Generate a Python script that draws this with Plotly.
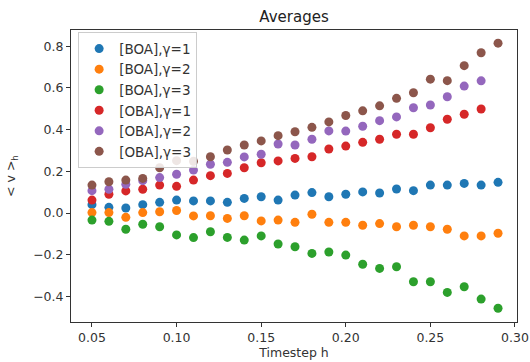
import plotly.graph_objects as go

h_full = [0.05, 0.06, 0.07, 0.08, 0.09, 0.10, 0.11, 0.12, 0.13, 0.14, 0.15, 0.16, 0.17,
          0.18, 0.19, 0.20, 0.21, 0.22, 0.23, 0.24, 0.25, 0.26, 0.27, 0.28, 0.29]
h_short = h_full[:-1]

boa_g1 = [0.040, 0.027, 0.024, 0.040, 0.051, 0.062, 0.058, 0.058, 0.051, 0.070, 0.078, 0.062, 0.086,
          0.098, 0.078, 0.090, 0.101, 0.096, 0.115, 0.107, 0.134, 0.134, 0.142, 0.134, 0.147]
boa_g2 = [0.002, 0.002, -0.021, 0.002, 0.006, 0.012, -0.014, -0.013, -0.026, -0.013, -0.038, -0.034, -0.045,
          -0.006, -0.045, -0.045, -0.059, -0.051, -0.066, -0.059, -0.066, -0.078, -0.110, -0.110, -0.097]
boa_g3 = [-0.034, -0.040, -0.078, -0.054, -0.066, -0.105, -0.118, -0.090, -0.117, -0.130, -0.110, -0.149, -0.162,
          -0.194, -0.187, -0.202, -0.246, -0.266, -0.258, -0.330, -0.330, -0.381, -0.354, -0.413, -0.457]
oba_g1 = [0.062, 0.090, 0.106, 0.114, 0.134, 0.128, 0.158, 0.179, 0.190, 0.217, 0.241, 0.250, 0.262,
          0.270, 0.307, 0.321, 0.339, 0.354, 0.378, 0.378, 0.409, 0.450, 0.474, 0.499]
oba_g2 = [0.107, 0.114, 0.138, 0.155, 0.170, 0.186, 0.206, 0.234, 0.243, 0.269, 0.282, 0.331, 0.326,
          0.354, 0.394, 0.393, 0.416, 0.443, 0.461, 0.505, 0.518, 0.558, 0.609, 0.634]
oba_g3 = [0.134, 0.150, 0.158, 0.166, 0.217, 0.251, 0.248, 0.270, 0.302, 0.326, 0.346, 0.371, 0.390,
          0.411, 0.437, 0.468, 0.490, 0.514, 0.550, 0.577, 0.642, 0.635, 0.707, 0.769, 0.815]

series = [
    ("[BOA],γ=1", h_full, boa_g1, "#1f77b4"),
    ("[BOA],γ=2", h_full, boa_g2, "#ff7f0e"),
    ("[BOA],γ=3", h_full, boa_g3, "#2ca02c"),
    ("[OBA],γ=1", h_short, oba_g1, "#d62728"),
    ("[OBA],γ=2", h_short, oba_g2, "#9467bd"),
    ("[OBA],γ=3", h_full, oba_g3, "#8c564b"),
]

x_ticks = [0.05, 0.10, 0.15, 0.20, 0.25, 0.30]
x_ticktext = ["0.05", "0.10", "0.15", "0.20", "0.25", "0.30"]
y_ticks = [-0.4, -0.2, 0.0, 0.2, 0.4, 0.6, 0.8]
y_ticktext = ["−0.4", "−0.2", "0.0", "0.2", "0.4", "0.6", "0.8"]

fig = go.Figure()
for name, xs, ys, color in series:
    fig.add_trace(go.Scatter(x=xs, y=ys, mode="markers", name=name,
                             marker=dict(color=color, size=9, line=dict(width=0))))

font = "DejaVu Sans, sans-serif"
axis_common = dict(showline=True, linecolor="#333", linewidth=1, mirror=True,
                   ticks="outside", ticklen=4, tickcolor="#333", showgrid=False,
                   zeroline=False, automargin=False,
                   tickfont=dict(family=font, size=12.5, color="#333"))
fig.update_layout(
    width=530, height=362,
    margin=dict(l=71, r=13, t=30, b=40),
    paper_bgcolor="white", plot_bgcolor="white",
    font=dict(family=font, size=12.5, color="#333"),
    title=dict(text="Averages", xref="paper", x=0.5, xanchor="center", y=0.955, yanchor="middle",
               font=dict(family=font, size=15, color="#222")),
    xaxis=dict(range=[0.0376, 0.3012], tickvals=x_ticks, ticktext=x_ticktext,
               title=dict(text="Timestep h", standoff=4, font=dict(family=font, size=12.5, color="#333")),
               **axis_common),
    yaxis=dict(range=[-0.523, 0.878], tickvals=y_ticks, ticktext=y_ticktext,
               title=dict(text="&lt; v &gt;<sub>h</sub>", standoff=14, font=dict(family=font, size=12.5, color="#333")),
               **axis_common),
    legend=dict(x=0.016, y=0.992, xanchor="left", yanchor="top",
                bgcolor="rgba(255,255,255,0.85)", bordercolor="#ccc", borderwidth=1,
                font=dict(family=font, size=13.5, color="#333"), tracegroupgap=0),
)

fig.write_html("out.html", config={"displayModeBar": False},
               post_script="document.body.style.margin='0';")
